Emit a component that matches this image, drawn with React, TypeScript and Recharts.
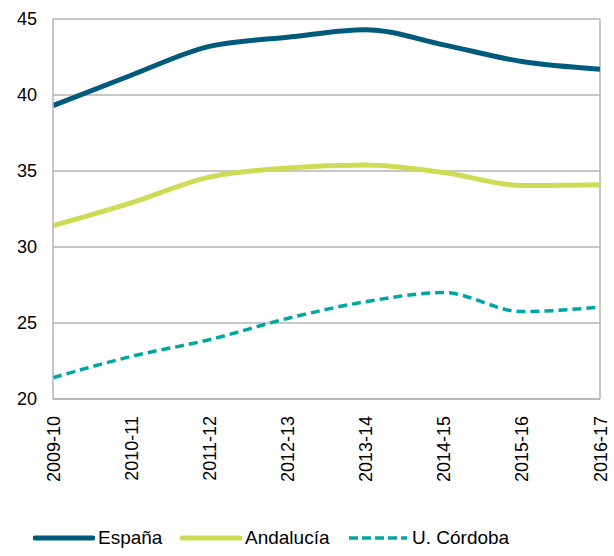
import React from 'react';
import { CartesianGrid, Line, LineChart, ReferenceLine, XAxis, YAxis } from 'recharts';

const W = 614;
const H = 556;

const years = ['2009-10', '2010-11', '2011-12', '2012-13', '2013-14', '2014-15', '2015-16', '2016-17'];
const espana = [39.3, 41.3, 43.2, 43.8, 44.3, 43.3, 42.2, 41.7];
const andalucia = [31.4, 32.9, 34.6, 35.2, 35.4, 34.9, 34.05, 34.1];
const cordoba = [21.4, 22.8, 23.9, 25.3, 26.4, 27.0, 25.75, 26.05];
const yTicks = [20, 25, 30, 35, 40, 45];

const data = years.map((y, i) => ({
  year: y,
  espana: espana[i],
  andalucia: andalucia[i],
  cordoba: cordoba[i],
}));

const FONT = '"Liberation Sans", Arial, sans-serif';
const GRID = '#b4b4b4';
const C_ESP = '#005a7b';
const C_AND = '#cfdb55';
const C_COR = '#00a6a3';

function YearTick(props: any) {
  const { x, y, payload } = props;
  return (
    <text
      x={0}
      y={0}
      transform={`translate(${x + 6.5},${y + 9}) rotate(-90)`}
      textAnchor="end"
      fontSize={18}
      fontFamily={FONT}
      fill="#000"
    >
      {payload.value}
    </text>
  );
}

const legendItems = [
  { label: 'España', color: C_ESP, dash: undefined, width: 5, left: 33, cap: 'round' },
  { label: 'Andalucía', color: C_AND, dash: undefined, width: 5, left: 180, cap: 'round' },
  { label: 'U. Córdoba', color: C_COR, dash: '9 4', width: 3.5, left: 347, cap: 'butt' },
];

function ChartLegend() {
  return (
    <>
      {legendItems.map((it) => (
        <div
          key={it.label}
          style={{
            position: 'absolute',
            left: it.left,
            top: 527,
            display: 'flex',
            alignItems: 'center',
            fontFamily: FONT,
            fontSize: 19,
            color: '#000',
            whiteSpace: 'nowrap',
          }}
        >
          <svg width={62} height={10} style={{ marginRight: 3 }}>
            <line
              x1={2}
              y1={5}
              x2={60}
              y2={5}
              stroke={it.color}
              strokeWidth={it.width}
              strokeDasharray={it.dash}
              strokeLinecap={it.cap as any}
            />
          </svg>
          <span>{it.label}</span>
        </div>
      ))}
    </>
  );
}

export default function App() {
  return (
    <div style={{ position: 'absolute', left: 0, top: 0, width: W, height: H, background: '#fff' }}>
      <LineChart width={W} height={H} data={data} margin={{ top: 19, right: 14, bottom: 0, left: 0 }}>
        <CartesianGrid vertical={false} stroke={GRID} strokeWidth={1.5} />
        <XAxis
          dataKey="year"
          interval={0}
          height={157}
          tick={<YearTick />}
          tickLine={false}
          axisLine={{ stroke: GRID, strokeWidth: 1.5 }}
        />
        <YAxis
          domain={[20, 45]}
          ticks={yTicks}
          width={53}
          tickLine={false}
          tickSize={0}
          tickMargin={16}
          axisLine={{ stroke: GRID, strokeWidth: 1.5 }}
          tick={{ fontSize: 18, fontFamily: FONT, fill: '#000' }}
        />
        <ReferenceLine x="2016-17" stroke={GRID} strokeWidth={1.5} />
        <Line
          type="monotone"
          dataKey="espana"
          stroke={C_ESP}
          strokeWidth={5}
          dot={false}
          isAnimationActive={false}
        />
        <Line
          type="monotone"
          dataKey="andalucia"
          stroke={C_AND}
          strokeWidth={5}
          dot={false}
          isAnimationActive={false}
        />
        <Line
          type="monotone"
          dataKey="cordoba"
          stroke={C_COR}
          strokeWidth={3.5}
          strokeDasharray="9 5"
          dot={false}
          isAnimationActive={false}
        />
      </LineChart>
      <ChartLegend />
    </div>
  );
}
